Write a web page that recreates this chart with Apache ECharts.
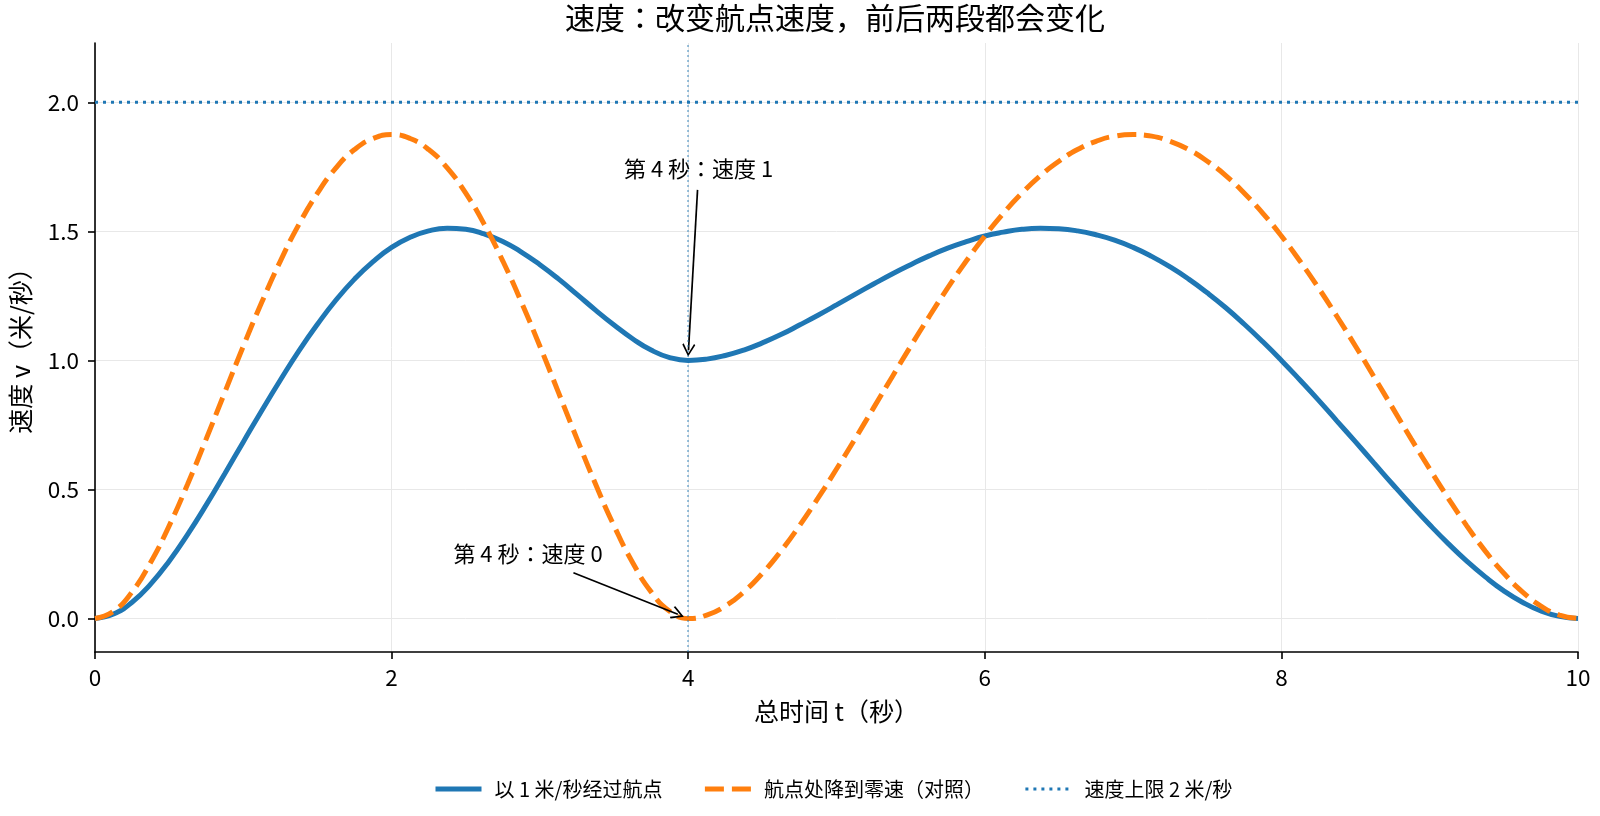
<!DOCTYPE html>
<html>
<head>
<meta charset="utf-8">
<title>速度：改变航点速度</title>
<script src="https://cdn.jsdelivr.net/npm/echarts@6/dist/echarts.min.js"></script>
<style>
    html, body { margin: 0; padding: 0; background: #fff; }
    #main { width: 1600px; height: 816px; }
</style>
</head>
<body>
<div id="main"></div>
<script type="text/javascript">
    // 时间采样点（秒）
    var tValues = [0, 0.125, 0.25, 0.375, 0.5, 0.625, 0.75, 0.875, 1, 1.125, 1.25, 1.375, 1.5, 1.625, 1.75, 1.875,
        2, 2.125, 2.25, 2.375, 2.5, 2.625, 2.75, 2.875, 3, 3.125, 3.25, 3.375, 3.5, 3.625, 3.75, 3.875,
        4, 4.125, 4.25, 4.375, 4.5, 4.625, 4.75, 4.875, 5, 5.125, 5.25, 5.375, 5.5, 5.625, 5.75, 5.875,
        6, 6.125, 6.25, 6.375, 6.5, 6.625, 6.75, 6.875, 7, 7.125, 7.25, 7.375, 7.5, 7.625, 7.75, 7.875,
        8, 8.125, 8.25, 8.375, 8.5, 8.625, 8.75, 8.875, 9, 9.125, 9.25, 9.375, 9.5, 9.625, 9.75, 9.875, 10];
    // 以 1 米/秒经过航点
    var passSpeed = [0, 0.017, 0.063, 0.133, 0.222, 0.326, 0.440, 0.561, 0.684, 0.806, 0.924, 1.037, 1.140, 1.234, 1.315, 1.383,
        1.438, 1.477, 1.502, 1.512, 1.508, 1.490, 1.461, 1.420, 1.371, 1.316, 1.256, 1.195, 1.137, 1.084, 1.040, 1.011,
        1.000, 1.005, 1.019, 1.040, 1.068, 1.100, 1.137, 1.175, 1.215, 1.256, 1.296, 1.335, 1.371, 1.405, 1.435, 1.460,
        1.482, 1.497, 1.508, 1.512, 1.510, 1.502, 1.487, 1.466, 1.438, 1.403, 1.362, 1.315, 1.262, 1.204, 1.140, 1.072,
        1.000, 0.924, 0.846, 0.765, 0.684, 0.602, 0.520, 0.440, 0.363, 0.290, 0.222, 0.161, 0.107, 0.063, 0.029, 0.008, 0];
    // 航点处降到零速（对照）
    var stopSpeed = [0, 0.028, 0.103, 0.217, 0.359, 0.521, 0.696, 0.876, 1.055, 1.226, 1.385, 1.527, 1.648, 1.746, 1.817, 1.860,
        1.875, 1.860, 1.817, 1.746, 1.648, 1.527, 1.385, 1.226, 1.055, 0.876, 0.696, 0.521, 0.359, 0.217, 0.103, 0.028,
        0, 0.013, 0.048, 0.103, 0.175, 0.261, 0.359, 0.466, 0.579, 0.696, 0.816, 0.936, 1.055, 1.170, 1.281, 1.385,
        1.482, 1.570, 1.648, 1.716, 1.772, 1.817, 1.849, 1.869, 1.875, 1.869, 1.849, 1.817, 1.772, 1.716, 1.648, 1.570,
        1.482, 1.385, 1.281, 1.170, 1.055, 0.936, 0.816, 0.696, 0.579, 0.466, 0.359, 0.261, 0.175, 0.103, 0.048, 0.013, 0];
    // 速度上限
    var limitT = [0, 10];
    var limitSpeed = [2, 2];
    var waypointT = 4;
    var yTicks = [0, 0.5, 1, 1.5, 2];
    var seriesNames = ['以 1 米/秒经过航点', '航点处降到零速（对照）', '速度上限 2 米/秒'];

    var FONT = 'Noto Sans CJK JP';
    var BLUE = '#1f77b4', ORANGE = '#ff7f0e';
    var chevron = 'path://M5,0 L10,9 L9,10 L5,2.6 L1,10 L0,9 Z';
    var noMarker = { opacity: 0, color: 'rgba(0,0,0,0)', borderWidth: 0 };

    function pairs(xs, ys) {
        return xs.map(function (x, i) { return [x, ys[i]]; });
    }

    var myChart = echarts.init(document.getElementById('main'));

    var option = {
        backgroundColor: '#fff',
        animation: false,
        textStyle: { fontFamily: FONT },
        title: {
            text: '速度：改变航点速度，前后两段都会变化',
            left: 835,
            top: 3,
            padding: 0,
            textAlign: 'center',
            textStyle: { fontFamily: FONT, fontSize: 30, fontWeight: 'normal', color: '#000' }
        },
        grid: { left: 92, right: 22, top: 43, bottom: 164 },
        legend: {
            left: 433,
            top: 779,
            padding: 0,
            itemWidth: 46,
            itemHeight: 14,
            itemGap: 40,
            textStyle: { fontFamily: FONT, fontSize: 20, color: '#000', padding: [0, 0, 0, 8] },
            data: [
                { name: seriesNames[0], itemStyle: noMarker, lineStyle: { color: BLUE, width: 5, type: 'solid' } },
                { name: seriesNames[1], itemStyle: noMarker, lineStyle: { color: ORANGE, width: 5, type: [19, 8] } },
                { name: seriesNames[2], itemStyle: noMarker, lineStyle: { color: BLUE, width: 3, type: [3, 5] } }
            ]
        },
        xAxis: {
            type: 'value',
            min: 0,
            max: 10,
            interval: 2,
            name: '总时间 t（秒）',
            nameLocation: 'middle',
            nameGap: 47,
            nameTextStyle: { fontFamily: FONT, fontSize: 25, color: '#000' },
            axisLine: { onZero: false, lineStyle: { color: '#000', width: 1.6 } },
            axisTick: { show: true, length: 7, lineStyle: { color: '#000', width: 1.6 } },
            axisLabel: { fontFamily: FONT, fontSize: 22.5, color: '#000', margin: 14 },
            splitLine: { show: true, lineStyle: { color: '#e8e8e8', width: 1 } }
        },
        yAxis: {
            type: 'value',
            min: -0.13,
            max: 2.23,
            name: '速度 v（米/秒）',
            nameLocation: 'middle',
            nameGap: 62,
            nameTextStyle: { fontFamily: FONT, fontSize: 25, color: '#000', padding: [0, 0, 0, 6] },
            axisLine: { show: true, onZero: false, lineStyle: { color: '#000', width: 1.6 } },
            axisTick: { show: true, length: 7, customValues: yTicks, lineStyle: { color: '#000', width: 1.6 } },
            axisLabel: {
                customValues: yTicks,
                fontFamily: FONT, fontSize: 22.5, color: '#000', margin: 16,
                formatter: function (v) { return v.toFixed(1); }
            },
            splitLine: { show: true, lineStyle: { color: '#e8e8e8', width: 1 } }
        },
        series: [
            {
                name: seriesNames[0],
                type: 'line',
                data: pairs(tValues, passSpeed),
                smooth: true,
                showSymbol: false,
                symbol: 'none',
                lineStyle: { color: BLUE, width: 5 },
                itemStyle: { color: BLUE },
                z: 3,
                markPoint: {
                    symbol: 'circle',
                    symbolSize: 1,
                    silent: true,
                    itemStyle: { color: 'rgba(0,0,0,0)' },
                    label: { show: true, position: 'inside', fontFamily: FONT, fontSize: 22, color: '#000' },
                    data: [
                        { coord: [4.07, 1.743], label: { formatter: '第 4 秒：速度 1' } },
                        { coord: [2.92, 0.252], label: { formatter: '第 4 秒：速度 0' } }
                    ]
                },
                markLine: {
                    silent: true,
                    symbol: ['none', chevron],
                    symbolSize: [13, 13],
                    label: { show: false },
                    lineStyle: { color: '#000', width: 1.7, type: 'solid' },
                    data: [
                        [{ coord: [4.063, 1.661] }, { coord: [4.002, 1.040] }],
                        [{ coord: [3.226, 0.177] }, { coord: [3.93, 0.016] }]
                    ]
                }
            },
            {
                name: seriesNames[1],
                type: 'line',
                data: pairs(tValues, stopSpeed),
                smooth: true,
                showSymbol: false,
                symbol: 'none',
                lineStyle: { color: ORANGE, width: 5, type: [19, 8] },
                itemStyle: { color: ORANGE },
                z: 4
            },
            {
                name: seriesNames[2],
                type: 'line',
                data: pairs(limitT, limitSpeed),
                showSymbol: false,
                symbol: 'none',
                lineStyle: { color: BLUE, width: 3, type: [3, 5] },
                itemStyle: { color: BLUE },
                z: 2,
                markLine: {
                    silent: true,
                    symbol: ['none', 'none'],
                    label: { show: false },
                    lineStyle: { color: 'rgba(31,119,180,0.55)', width: 1.6, type: [2, 3] },
                    data: [{ xAxis: waypointT }]
                }
            }
        ]
    };

    myChart.setOption(option);
</script>
</body>
</html>
